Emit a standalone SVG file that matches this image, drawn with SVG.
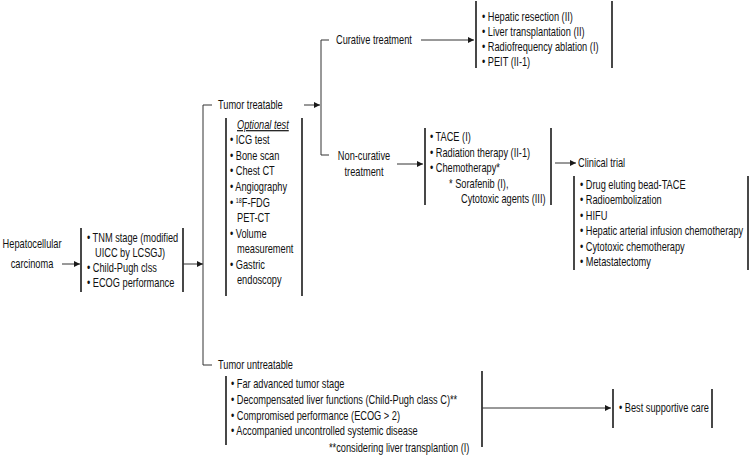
<svg xmlns="http://www.w3.org/2000/svg" width="750" height="466" viewBox="0 0 750 466">
<defs>
<marker id="ah" viewBox="0 0 10 10" refX="10" refY="5" markerWidth="8" markerHeight="6" markerUnits="userSpaceOnUse" orient="auto">
<path d="M0,0 L10,5 L0,10 Z" fill="#1a1a1a"/>
</marker>
<style>
text{font-family:"Liberation Sans",Arial,sans-serif;font-size:12px;fill:#111;transform-box:fill-box;transform-origin:0% 50%;transform:scaleX(0.77)}
text.c{text-anchor:middle;transform-origin:50% 50%}
.bar{stroke:#1a1a1a;stroke-width:1.6;fill:none}
.ln{stroke:#333;stroke-width:1;fill:none}
.ar{stroke:#333;stroke-width:1;fill:none;marker-end:url(#ah)}
</style>
</defs>
<rect width="750" height="466" fill="#fff"/>

<g id="hcc">
<text class="c" x="32" y="248">Hepatocellular</text>
<text class="c" x="32" y="268">carcinoma</text>
</g>

<g id="staging">
<line class="bar" x1="81" y1="228" x2="81" y2="292"/>
<line class="bar" x1="183" y1="228" x2="183" y2="292"/>
<text x="87" y="242">• TNM stage (modified</text>
<text x="95" y="257">UICC by LCSGJ)</text>
<text x="87" y="272">• Child-Pugh clss</text>
<text x="87" y="287">• ECOG performance</text>
</g>

<g id="treatable">
<text x="218" y="109">Tumor treatable</text>
</g>

<g id="optional">
<line class="bar" x1="226" y1="118" x2="226" y2="296"/>
<line class="bar" x1="302" y1="118" x2="302" y2="296"/>
<text x="237" y="129" font-style="italic" text-decoration="underline">Optional test</text>
<text x="230" y="144">• ICG test</text>
<text x="230" y="160">• Bone scan</text>
<text x="230" y="175">• Chest CT</text>
<text x="230" y="191">• Angiography</text>
<text x="230" y="207">• <tspan font-size="7" dy="-4">18</tspan><tspan dy="4">F-FDG</tspan></text>
<text x="237" y="222">PET-CT</text>
<text x="230" y="238">• Volume</text>
<text x="237" y="253">measurement</text>
<text x="230" y="269">• Gastric</text>
<text x="237" y="284">endoscopy</text>
</g>

<g id="curative">
<text x="336" y="44">Curative treatment</text>
</g>

<g id="curative-list">
<line class="bar" x1="476" y1="1" x2="476" y2="68"/>
<line class="bar" x1="612" y1="1" x2="612" y2="68"/>
<text x="482" y="21">• Hepatic resection (II)</text>
<text x="482" y="36">• Liver transplantation (II)</text>
<text x="482" y="51">• Radiofrequency ablation (I)</text>
<text x="482" y="66">• PEIT (II-1)</text>
</g>

<g id="noncurative">
<text class="c" x="364" y="160">Non-curative</text>
<text class="c" x="364" y="176">treatment</text>
</g>

<g id="noncurative-list">
<line class="bar" x1="425" y1="128" x2="425" y2="205"/>
<line class="bar" x1="551" y1="128" x2="551" y2="205"/>
<text x="430" y="141">• TACE (I)</text>
<text x="430" y="157">• Radiation therapy (II-1)</text>
<text x="430" y="172">• Chemotherapy*</text>
<text x="449" y="188">* Sorafenib (I),</text>
<text x="461" y="203">Cytotoxic agents (III)</text>
</g>

<g id="clinical">
<text x="578" y="167" font-size="13">Clinical trial</text>
</g>

<g id="clinical-list">
<line class="bar" x1="574" y1="176" x2="574" y2="270"/>
<line class="bar" x1="748" y1="176" x2="748" y2="270"/>
<text x="580" y="189">• Drug eluting bead-TACE</text>
<text x="580" y="204">• Radioembolization</text>
<text x="580" y="220">• HIFU</text>
<text x="580" y="235">• Hepatic arterial infusion chemotherapy</text>
<text x="580" y="251">• Cytotoxic chemotherapy</text>
<text x="580" y="266">• Metastatectomy</text>
</g>

<g id="untreatable">
<text x="218" y="369">Tumor untreatable</text>
</g>

<g id="untreatable-list">
<line class="bar" x1="226" y1="376" x2="226" y2="445"/>
<line class="bar" x1="482" y1="371" x2="482" y2="447"/>
<text x="231" y="388">• Far advanced tumor stage</text>
<text x="231" y="404">• Decompensated liver functions (Child-Pugh class C)**</text>
<text x="231" y="420">• Compromised performance (ECOG &gt; 2)</text>
<text x="231" y="435">• Accompanied uncontrolled systemic disease</text>
<text x="329" y="452">**considering liver transplantion (I)</text>
</g>

<g id="supportive">
<line class="bar" x1="613" y1="389" x2="613" y2="428"/>
<line class="bar" x1="712" y1="389" x2="712" y2="428"/>
<text x="619" y="412">• Best supportive care</text>
</g>

<g id="connectors">
<line class="ar" x1="62" y1="264" x2="80" y2="264"/>
<line class="ar" x1="183" y1="264" x2="203" y2="264"/>
<polyline class="ln" points="212,105 203,105 203,365 212,365"/>
<line class="ar" x1="304" y1="105" x2="320" y2="105"/>
<polyline class="ln" points="329,40 321,40 321,155 329,155"/>
<line class="ar" x1="421" y1="40" x2="474" y2="40"/>
<line class="ar" x1="397" y1="164" x2="423" y2="164"/>
<line class="ar" x1="555" y1="163" x2="576" y2="163"/>
<line class="ar" x1="482" y1="408" x2="611" y2="408"/>
</g>
</svg>
